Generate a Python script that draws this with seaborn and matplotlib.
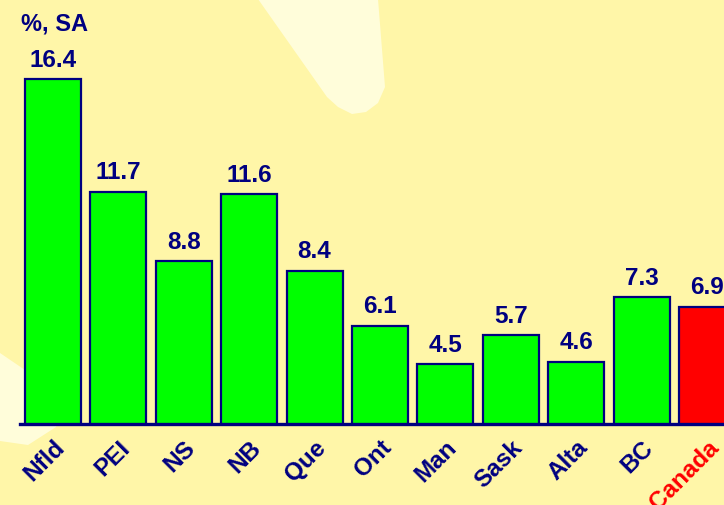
import matplotlib
matplotlib.use("Agg")
import matplotlib.pyplot as plt
from matplotlib.patches import Polygon
from matplotlib.transforms import ScaledTranslation
import seaborn as sns

# data
regions = ["Nfld", "PEI", "NS", "NB", "Que", "Ont", "Man", "Sask", "Alta", "BC", "Canada"]
rates = [16.4, 11.7, 8.8, 11.6, 8.4, 6.1, 4.5, 5.7, 4.6, 7.3, 6.9]
bar_colors = ["#00FF00"] * 10 + ["#FF0000"]
label_colors = ["#000080"] * 10 + ["#FF0000"]

navy = "#000080"
bg = "#FFF6A8"
light = "#FFFDDA"

sns.set_style("white")
plt.rcParams["font.family"] = ["Liberation Sans", "DejaVu Sans"]
plt.rcParams["font.weight"] = "bold"

W, H = 724, 506
fig = plt.figure(figsize=(W / 100, H / 100), dpi=100, facecolor=bg)

def px(pts):
    return [(x / W, 1 - y / H) for x, y in pts]

# decorative light shapes in the background
top_shape = [(258, 0), (327, 98), (338, 108), (352, 115), (366, 113), (378, 104),
             (385, 88), (378, 0)]
left_shape = [(0, 354), (25, 371), (70, 400), (56, 428), (28, 446), (0, 442)]
for shp in (top_shape, left_shape):
    fig.patches.append(Polygon(px(shp), closed=True, transform=fig.transFigure,
                               facecolor=light, edgecolor="none", zorder=-1))

ax = fig.add_axes([20 / W, 81 / H, 704 / W, 425 / H])
ax.set_facecolor("none")

sns.barplot(x=regions, y=rates, hue=regions, palette=bar_colors, legend=False,
            width=0.856, edgecolor=navy, linewidth=1.6, saturation=1, ax=ax)

for cont in ax.containers:
    ax.bar_label(cont, fmt="%.1f", padding=6, fontsize=17.5, fontweight="bold", color=navy)

ax.set_xlim(-0.505, 10.26)
ax.set_ylim(2, 19.75)
ax.set_xlabel("")
ax.set_ylabel("")
ax.set_yticks([])
ax.set_xticks(range(len(regions)))
ax.set_xticklabels(regions, rotation=45, ha="right", va="top", rotation_mode="anchor",
                   fontsize=17.5, fontweight="bold")
shift = ScaledTranslation(-6 / 100, 0, fig.dpi_scale_trans)
for lab, c in zip(ax.get_xticklabels(), label_colors):
    lab.set_color(c)
    lab.set_transform(lab.get_transform() + shift)
ax.tick_params(axis="x", length=0, pad=8)

for s in ["top", "right", "left"]:
    ax.spines[s].set_visible(False)
ax.spines["bottom"].set_color(navy)
ax.spines["bottom"].set_linewidth(2.4)

fig.text(21 / W, 1 - 12 / H, "%, SA", fontsize=17, fontweight="bold", color=navy,
         ha="left", va="top")

fig.savefig("out.png", dpi=100, facecolor=bg)
